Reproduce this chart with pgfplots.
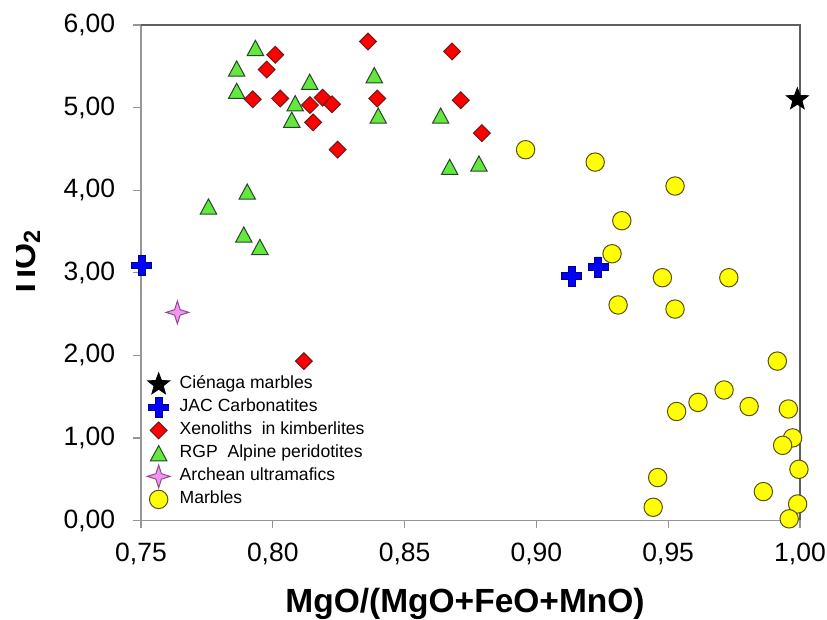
\documentclass[border=0pt]{standalone}
\usepackage{pgfplots}
\pgfplotsset{compat=1.18}
\usepackage{fontspec}
\setmainfont{Liberation Sans}

\definecolor{axgray}{RGB}{150,150,150}
\definecolor{boxgray}{RGB}{95,95,95}
\definecolor{xenred}{RGB}{255,0,0}
\definecolor{xenedge}{RGB}{110,25,25}
\definecolor{rgpgreen}{RGB}{100,232,64}
\definecolor{rgpedge}{RGB}{40,70,40}
\definecolor{marbyel}{RGB}{255,255,0}
\definecolor{marbedge}{RGB}{90,80,20}
\definecolor{jacblue}{RGB}{0,0,255}
\definecolor{jacedge}{RGB}{0,0,130}
\definecolor{archpink}{RGB}{240,150,240}
\definecolor{archedge}{RGB}{150,70,150}

% filled marks shaped like the spreadsheet ones
\pgfdeclareplotmark{sqdiamond}{%
  \pgfpathmoveto{\pgfqpoint{0pt}{\pgfplotmarksize}}%
  \pgfpathlineto{\pgfqpoint{\pgfplotmarksize}{0pt}}%
  \pgfpathlineto{\pgfqpoint{0pt}{-\pgfplotmarksize}}%
  \pgfpathlineto{\pgfqpoint{-\pgfplotmarksize}{0pt}}%
  \pgfpathclose\pgfusepathqfillstroke}
\pgfdeclareplotmark{xltriangle}{%
  \pgfpathmoveto{\pgfqpoint{0pt}{0.95\pgfplotmarksize}}%
  \pgfpathlineto{\pgfqpoint{\pgfplotmarksize}{-0.9\pgfplotmarksize}}%
  \pgfpathlineto{\pgfqpoint{-\pgfplotmarksize}{-0.9\pgfplotmarksize}}%
  \pgfpathclose\pgfusepathqfillstroke}
\pgfdeclareplotmark{fatplus}{%
  \pgfpathmoveto{\pgfqpoint{0.33\pgfplotmarksize}{\pgfplotmarksize}}%
  \pgfpathlineto{\pgfqpoint{0.33\pgfplotmarksize}{0.33\pgfplotmarksize}}%
  \pgfpathlineto{\pgfqpoint{\pgfplotmarksize}{0.33\pgfplotmarksize}}%
  \pgfpathlineto{\pgfqpoint{\pgfplotmarksize}{-0.33\pgfplotmarksize}}%
  \pgfpathlineto{\pgfqpoint{0.33\pgfplotmarksize}{-0.33\pgfplotmarksize}}%
  \pgfpathlineto{\pgfqpoint{0.33\pgfplotmarksize}{-\pgfplotmarksize}}%
  \pgfpathlineto{\pgfqpoint{-0.33\pgfplotmarksize}{-\pgfplotmarksize}}%
  \pgfpathlineto{\pgfqpoint{-0.33\pgfplotmarksize}{-0.33\pgfplotmarksize}}%
  \pgfpathlineto{\pgfqpoint{-\pgfplotmarksize}{-0.33\pgfplotmarksize}}%
  \pgfpathlineto{\pgfqpoint{-\pgfplotmarksize}{0.33\pgfplotmarksize}}%
  \pgfpathlineto{\pgfqpoint{-0.33\pgfplotmarksize}{0.33\pgfplotmarksize}}%
  \pgfpathlineto{\pgfqpoint{-0.33\pgfplotmarksize}{\pgfplotmarksize}}%
  \pgfpathclose\pgfusepathqfillstroke}
\pgfdeclareplotmark{fivestar}{%
  \pgfpathmoveto{\pgfpointpolar{90}{\pgfplotmarksize}}%
  \pgfpathlineto{\pgfpointpolar{126}{0.42\pgfplotmarksize}}%
  \pgfpathlineto{\pgfpointpolar{162}{\pgfplotmarksize}}%
  \pgfpathlineto{\pgfpointpolar{198}{0.42\pgfplotmarksize}}%
  \pgfpathlineto{\pgfpointpolar{234}{\pgfplotmarksize}}%
  \pgfpathlineto{\pgfpointpolar{270}{0.42\pgfplotmarksize}}%
  \pgfpathlineto{\pgfpointpolar{306}{\pgfplotmarksize}}%
  \pgfpathlineto{\pgfpointpolar{342}{0.42\pgfplotmarksize}}%
  \pgfpathlineto{\pgfpointpolar{18}{\pgfplotmarksize}}%
  \pgfpathlineto{\pgfpointpolar{54}{0.42\pgfplotmarksize}}%
  \pgfpathclose\pgfusepathqfillstroke}
\pgfdeclareplotmark{fourstar}{%
  \pgfpathmoveto{\pgfpointpolar{90}{\pgfplotmarksize}}%
  \pgfpathlineto{\pgfpointpolar{135}{0.34\pgfplotmarksize}}%
  \pgfpathlineto{\pgfpointpolar{180}{\pgfplotmarksize}}%
  \pgfpathlineto{\pgfpointpolar{225}{0.34\pgfplotmarksize}}%
  \pgfpathlineto{\pgfpointpolar{270}{\pgfplotmarksize}}%
  \pgfpathlineto{\pgfpointpolar{315}{0.34\pgfplotmarksize}}%
  \pgfpathlineto{\pgfpointpolar{0}{\pgfplotmarksize}}%
  \pgfpathlineto{\pgfpointpolar{45}{0.34\pgfplotmarksize}}%
  \pgfpathclose\pgfusepathqfillstroke}

\pgfplotsset{
  lgimg/.style={legend image code/.code={%
    \pgfinterruptboundingbox
    \draw[##1] plot coordinates {(6pt,0pt)};
    \endpgfinterruptboundingbox
    \pgfpathrectangle{\pgfqpoint{0pt}{-3pt}}{\pgfqpoint{12pt}{6pt}}%
    \pgfusepath{use as bounding box}}},
}

\begin{document}
\begin{tikzpicture}
\begin{axis}[
  at={(70.5pt,49.75pt)}, anchor=south west,
  scale only axis, width=329.5pt, height=247.75pt,
  xmin=0.75, xmax=1.00, ymin=0, ymax=6,
  xtick={0.75,0.80,0.85,0.90,0.95,1.00},
  ytick={0,1,2,3,4,5,6},
  axis lines=left,
  axis line style={-, draw=axgray, line width=0.6pt},
  tick align=outside, major tick length=3.75pt,
  tick style={draw=axgray, line width=0.6pt},
  clip=false,
  /pgf/number format/fixed, /pgf/number format/fixed zerofill,
  /pgf/number format/precision=2, /pgf/number format/use comma,
  /pgf/number format/assume math mode=true,
  ticklabel style={font=\fontsize{13.25pt}{15pt}\selectfont},
  xticklabel style={inner sep=0pt, yshift=-7.5pt},
  yticklabel style={inner sep=0pt, xshift=-9pt},
  xlabel={MgO/(MgO+FeO+MnO)},
  xlabel style={font=\bfseries\fontsize{16.75pt}{20pt}\selectfont,
    at={(axis description cs:0.5,0)}, anchor=base, inner sep=0pt,
    yshift=-46.25pt, xshift=-2.75pt},
  legend style={draw=none, fill=none, at={(0.008,0.2926)}, anchor=north west,
    inner sep=0pt, row sep=3pt, column sep=4.5pt,
    font=\fontsize{8.8pt}{10pt}\selectfont,
    nodes={inner sep=0pt, text height=6.5pt, text depth=2pt}},
  legend cell align=left,
]
% Cienaga marbles
\addplot[only marks, lgimg, mark=fivestar, mark size=5.8pt,
  mark options={fill=black, draw=black, line width=0.4pt}]
  coordinates {(0.999,5.10)};
\addlegendentry{Ciénaga marbles}
% JAC carbonatites
\addplot[only marks, lgimg, mark=fatplus, mark size=5pt,
  mark options={fill=jacblue, draw=jacedge, line width=0.4pt}]
  coordinates {(0.7503,3.09) (0.9134,2.96) (0.9234,3.07)};
\addlegendentry{JAC Carbonatites}
% xenoliths
\addplot[only marks, lgimg, mark=sqdiamond, mark size=4.2pt,
  mark options={fill=xenred, draw=xenedge, line width=0.5pt}]
  coordinates {
  (0.8361,5.80) (0.8680,5.68) (0.8009,5.64) (0.7977,5.46) (0.7924,5.10)
  (0.8028,5.11) (0.8189,5.12) (0.8141,5.03) (0.8225,5.04) (0.8396,5.11)
  (0.8713,5.09) (0.8153,4.82) (0.8246,4.49) (0.8793,4.69) (0.8118,1.93)};
\addlegendentry{Xenoliths\ \ in kimberlites}
% RGP alpine peridotites
\addplot[only marks, lgimg, mark=xltriangle, mark size=4.1pt,
  mark options={fill=rgpgreen, draw=rgpedge, line width=0.5pt}]
  coordinates {
  (0.7934,5.72) (0.7863,5.47) (0.7863,5.20) (0.8140,5.31) (0.8085,5.05)
  (0.8072,4.85) (0.8385,5.39) (0.8400,4.90) (0.8637,4.90) (0.8671,4.28)
  (0.8782,4.32) (0.7903,3.98) (0.7756,3.80) (0.7890,3.46) (0.7951,3.31)};
\addlegendentry{RGP\ \ Alpine peridotites}
% archean ultramafics
\addplot[only marks, lgimg, mark=fourstar, mark size=5.7pt,
  mark options={fill=archpink, draw=archedge, line width=0.5pt}]
  coordinates {(0.7638,2.52)};
\addlegendentry{Archean ultramafics}
% marbles
\addplot[only marks, lgimg, mark=*, mark size=4.6pt,
  mark options={fill=marbyel, draw=marbedge, line width=0.5pt}]
  coordinates {
  (0.8959,4.49) (0.9223,4.34) (0.9526,4.05) (0.9324,3.63) (0.9287,3.23)
  (0.9478,2.94) (0.9730,2.94) (0.9310,2.61) (0.9526,2.56) (0.9914,1.93)
  (0.9956,1.35) (0.9972,1.00) (0.9934,0.91) (0.9996,0.62) (0.9991,0.20)
  (0.9959,0.02) (0.9861,0.35) (0.9807,1.38) (0.9712,1.58) (0.9613,1.43)
  (0.9532,1.32) (0.9460,0.52) (0.9443,0.16)};
\addlegendentry{Marbles}
% plot area border, top and right
\draw[boxgray, line width=0.6pt] (rel axis cs:0,1) -- (rel axis cs:1,1) -- (rel axis cs:1,0);
\end{axis}
% y label, cut at the left like the original
\begin{scope}
  \clip (8pt,0pt) rectangle (60pt,310pt);
  \node[rotate=90, anchor=base west, inner sep=0pt,
    font=\bfseries\fontsize{16.75pt}{20pt}\selectfont] at (17.5pt,160.5pt) {TiO\textsubscript{2}};
\end{scope}
\pgfresetboundingbox
\path[use as bounding box] (0pt,0pt) rectangle (413.5pt,310pt);
\end{tikzpicture}
\end{document}
